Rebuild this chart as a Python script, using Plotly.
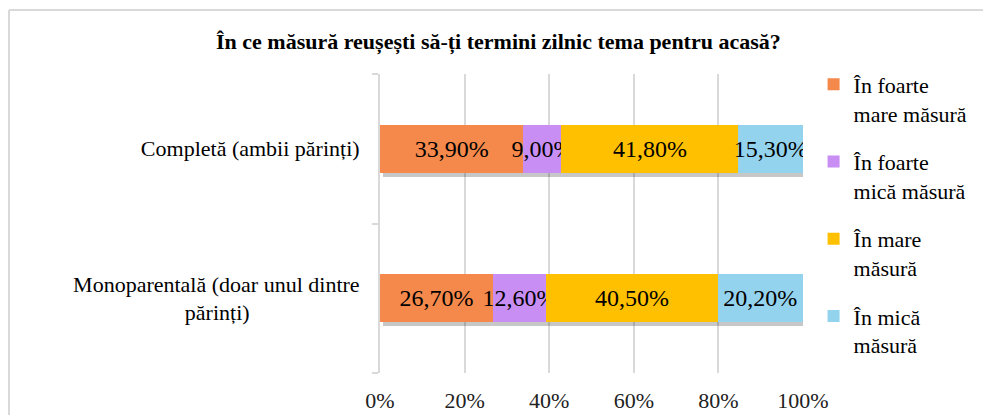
import plotly.graph_objects as go

categories = ["Completă (ambii părinți)", "Monoparentală (doar unul dintre părinți)"]
category_labels = ["Completă (ambii părinți)",
                   "Monoparentală (doar unul dintre<br>părinți)" + "\u00a0" * 20]
series_names = ["În foarte<br>mare măsură", "În foarte<br>mică măsură", "În mare<br>măsură", "În mică<br>măsură"]
v_foarte_mare = [33.9, 26.7]
v_foarte_mica = [9.0, 12.6]
v_mare = [41.8, 40.5]
v_mica = [15.3, 20.2]
series_values = [v_foarte_mare, v_foarte_mica, v_mare, v_mica]
colors = ["#F4894B", "#C88EF3", "#FFC000", "#94D3EE"]
tick_vals = [0, 20, 40, 60, 80, 100]
tick_text = ["0%", "20%", "40%", "60%", "80%", "100%"]

SERIF = "Liberation Serif"

fig = go.Figure()

# soft shadow under each full bar (main axes, shifted range)
totals = [sum(s[i] for s in series_values) for i in range(len(categories))]
fig.add_trace(go.Bar(
    y=categories, x=totals, orientation="h",
    marker=dict(color="rgba(0,0,0,0.22)", line=dict(width=0)),
    showlegend=False, hoverinfo="skip", xaxis="x", yaxis="y",
))

for name, vals, col in zip(series_names, series_values, colors):
    fig.add_trace(go.Bar(
        y=categories, x=vals, orientation="h", name=name,
        marker=dict(color=col, line=dict(width=0)),
        text=[f"{v:.2f}%".replace(".", ",") for v in vals],
        textposition="inside", insidetextanchor="middle",
        constraintext="none", textangle=0,
        textfont=dict(family=SERIF, size=24, color="#000000"),
        xaxis="x2", yaxis="y2", legendgroup=name,
    ))

dx = 0.6   # shadow shift in % units (~2.5px)
dy = 0.027  # shadow shift in category units (~4px)

fig.update_layout(
    width=983, height=415,
    font=dict(family=SERIF, color="#000000"),
    margin=dict(l=380, r=180, t=74, b=42, autoexpand=False),
    paper_bgcolor="white", plot_bgcolor="white",
    barmode="stack", bargap=0.68,
    title=dict(
        text="<b>În ce măsură reușești să-ți termini zilnic tema pentru acasă?</b>",
        x=0.507, xref="container", xanchor="center", y=0.9, yanchor="middle",
        font=dict(family=SERIF, size=22, color="#000000"),
    ),
    xaxis=dict(range=[-dx, 100 - dx], visible=False, showgrid=False, automargin=False),
    yaxis=dict(categoryorder="array", categoryarray=categories,
               range=[1.5 - dy, -0.5 - dy], visible=False, showgrid=False,
               automargin=False),
    xaxis2=dict(overlaying="x", side="bottom", range=[0, 100],
                tickvals=tick_vals, ticktext=tick_text,
                showgrid=True, gridcolor="#D9D9D9", gridwidth=1.5,
                zeroline=False, showline=False, ticks="", automargin=False,
                ticklabelstandoff=12,
                tickfont=dict(family=SERIF, size=22, color="#222222")),
    yaxis2=dict(overlaying="y", side="left", categoryorder="array",
                categoryarray=categories, range=[1.5, -0.5],
                tickvals=categories, ticktext=category_labels,
                showline=True, linecolor="#D9D9D9", linewidth=2,
                ticks="outside", tickson="boundaries", ticklen=6,
                tickcolor="#D9D9D9", tickwidth=2, ticklabelstandoff=14,
                showgrid=False, automargin=False,
                tickfont=dict(family=SERIF, size=22, color="#000000")),
    legend=dict(x=1.025, xanchor="left", y=1.035, yanchor="top",
                traceorder="grouped", tracegroupgap=17, valign="top",
                maxheight=400,
                font=dict(family=SERIF, size=22, color="#000000"),
                itemwidth=30, bgcolor="rgba(0,0,0,0)"),
    shapes=[
        dict(type="line", xref="paper", yref="paper",
             x0=(9 - 380) / 423, x1=(983 - 380) / 423,
             y0=(373 - 10) / 299, y1=(373 - 10) / 299,
             line=dict(color="#D9D9D9", width=2)),
        dict(type="line", xref="paper", yref="paper",
             x0=(9 - 380) / 423, x1=(9 - 380) / 423,
             y0=(373 - 10) / 299, y1=(373 - 420) / 299,
             line=dict(color="#D9D9D9", width=2)),
    ],
)

fig.write_html("out.html", config={"displayModeBar": False},
               post_script="document.body.style.margin='0';")
